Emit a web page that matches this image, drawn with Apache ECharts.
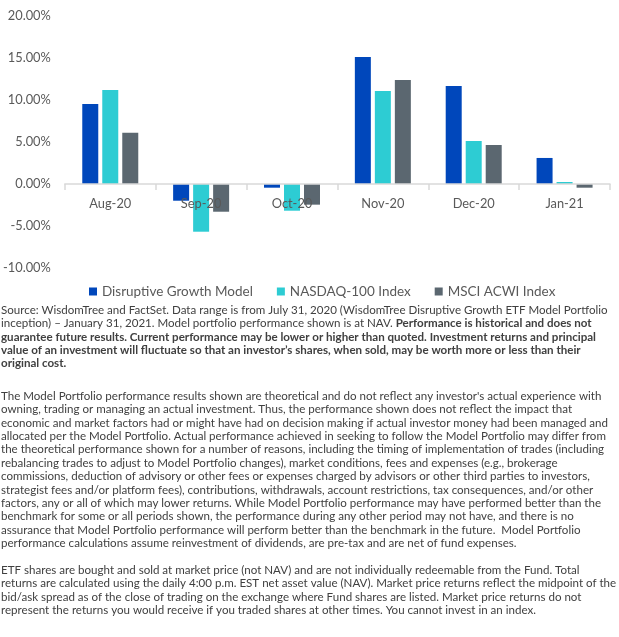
<!DOCTYPE html>
<html>
<head>
<meta charset="utf-8">
<script src="https://cdn.jsdelivr.net/npm/echarts@6/dist/echarts.min.js"></script>
<style>
html, body { margin: 0; padding: 0; background: #fff; }
#chart { width: 619px; height: 637px; }
</style>
</head>
<body>
<div id="chart"></div>
<script>
// monthly returns in %
const months = ['Aug-20', 'Sep-20', 'Oct-20', 'Nov-20', 'Dec-20', 'Jan-21'];
const seriesNames = ['Disruptive Growth Model', 'NASDAQ-100 Index', 'MSCI ACWI Index'];
const growthModel = [9.52, -1.99, -0.44, 15.12, 11.67, 3.10];
const nasdaq100 = [11.19, -5.68, -3.18, 11.07, 5.12, 0.24];
const msciAcwi = [6.11, -3.30, -2.46, 12.38, 4.64, -0.44];
const yMin = -10;
const yMax = 20;
const yStep = 5;

// footnote text, {b|...} marks the bold parts
const sourceLines = [
  '{n|Source: WisdomTree and FactSet. Data range is from July 31, 2020 (WisdomTree Disruptive Growth ETF Model Portfolio}',
  '{n|inception) – January 31, 2021. Model portfolio performance shown is at NAV. }{b|Performance is historical and does not}',
  '{b|guarantee future results. Current performance may be lower or higher than quoted. Investment returns and principal}',
  '{b|value of an investment will fluctuate so that an investor’s shares, when sold, may be worth more or less than their}',
  '{b|original cost.}'
];
const modelLines = [
  "The Model Portfolio performance results shown are theoretical and do not reflect any investor's actual experience with",
  'owning, trading or managing an actual investment. Thus, the performance shown does not reflect the impact that',
  'economic and market factors had or might have had on decision making if actual investor money had been managed and',
  'allocated per the Model Portfolio. Actual performance achieved in seeking to follow the Model Portfolio may differ from',
  'the theoretical performance shown for a number of reasons, including the timing of implementation of trades (including',
  'rebalancing trades to adjust to Model Portfolio changes), market conditions, fees and expenses (e.g., brokerage',
  'commissions, deduction of advisory or other fees or expenses charged by advisors or other third parties to investors,',
  'strategist fees and/or platform fees), contributions, withdrawals, account restrictions, tax consequences, and/or other',
  'factors, any or all of which may lower returns. While Model Portfolio performance may have performed better than the',
  'benchmark for some or all periods shown, the performance during any other period may not have, and there is no',
  'assurance that Model Portfolio performance will perform better than the benchmark in the future.  Model Portfolio',
  'performance calculations assume reinvestment of dividends, are pre-tax and are net of fund expenses.'
];
const etfLines = [
  'ETF shares are bought and sold at market price (not NAV) and are not individually redeemable from the Fund. Total',
  'returns are calculated using the daily 4:00 p.m. EST net asset value (NAV). Market price returns reflect the midpoint of the',
  'bid/ask spread as of the close of trading on the exchange where Fund shares are listed. Market price returns do not',
  'represent the returns you would receive if you traded shares at other times. You cannot invest in an index.'
];

const FONT = 'Lato';
const ctx = document.createElement('canvas').getContext('2d');
// Calibri is not installed, so scale Lato to the widths seen in the picture
function fitSize (text, width, weight) {
  ctx.font = (weight || 'normal') + ' 100px ' + FONT;
  return 100 * width / ctx.measureText(text).width;
}
const noteSize = Math.min(fitSize(modelLines[0], 607), fitSize(etfLines[1], 616));
const legendSize = fitSize(seriesNames[0], 151);
const axisSize = fitSize('Aug-20', 42);

const lineStep = 13.4;
function textBlock (lines, top, rich) {
  return lines.map((line, i) => ({
    type: 'text',
    left: 1,
    top: top + i * lineStep - 7,
    style: rich
      ? { text: line, rich: rich, fill: '#404040' }
      : { text: line, font: noteSize + 'px ' + FONT, fill: '#404040' }
  }));
}
const noteRich = {
  n: { fontFamily: FONT, fontSize: noteSize, color: '#404040' },
  b: { fontFamily: FONT, fontSize: noteSize, fontWeight: 'bold', color: '#404040' }
};

const gridTop = 16;
const gridBottom = 369;
const gridHeight = 637 - gridTop - gridBottom;
// category axis sits on the 0% line
const zeroOffset = -gridHeight * (0 - yMin) / (yMax - yMin);

const chart = echarts.init(document.getElementById('chart'));
chart.setOption({
  animation: false,
  color: ['#0047bb', '#2dccd3', '#5b6770'],
  textStyle: { fontFamily: FONT },
  grid: { left: 63, right: 9, top: gridTop, bottom: gridBottom, containLabel: false },
  legend: {
    data: seriesNames,
    left: 84,
    top: 280,
    icon: 'rect',
    itemWidth: 8,
    itemHeight: 8,
    itemGap: 24,
    textStyle: { color: '#595959', fontSize: legendSize, fontFamily: FONT }
  },
  xAxis: {
    type: 'category',
    data: months,
    offset: zeroOffset,
    z: 5, // month labels are drawn over the negative bars
    axisLine: { onZero: false, lineStyle: { color: '#d9d9d9', width: 1.5 } },
    axisTick: { show: true, length: 6, lineStyle: { color: '#d9d9d9', width: 1.5 } },
    axisLabel: { color: '#595959', fontSize: axisSize, fontFamily: FONT, margin: 13 }
  },
  yAxis: {
    type: 'value',
    min: yMin,
    max: yMax,
    interval: yStep,
    axisLine: { show: false },
    axisTick: { show: false },
    splitLine: { show: false },
    axisLabel: {
      color: '#595959',
      fontSize: axisSize,
      fontFamily: FONT,
      margin: 14,
      formatter: v => v.toFixed(2) + '%'
    }
  },
  series: [
    { name: seriesNames[0], type: 'bar', data: growthModel, barWidth: 16, barGap: '25%' },
    { name: seriesNames[1], type: 'bar', data: nasdaq100, barWidth: 16, barGap: '25%' },
    { name: seriesNames[2], type: 'bar', data: msciAcwi, barWidth: 16, barGap: '25%' }
  ],
  graphic: [].concat(
    textBlock(sourceLines, 311, noteRich),
    textBlock(modelLines, 397),
    textBlock(etfLines, 571)
  )
});
</script>
</body>
</html>
